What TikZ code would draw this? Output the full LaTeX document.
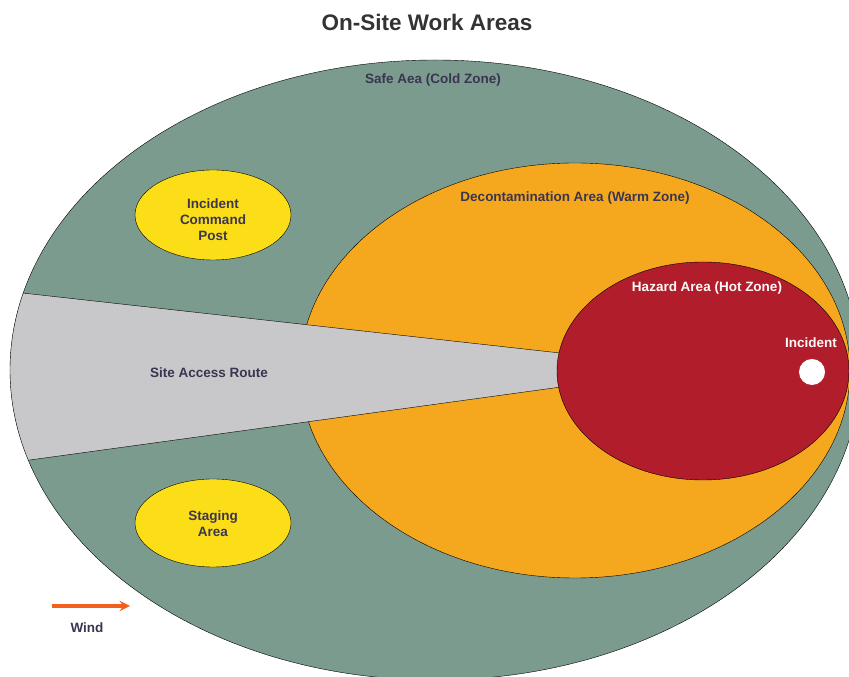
\documentclass[tikz,border=0pt]{standalone}
\usepackage{fontspec}
\setmainfont{Liberation Sans}
\usepackage{xcolor}
\usepackage{tikz}

\definecolor{coldzone}{HTML}{7B9B8E}
\definecolor{warmzone}{HTML}{F5A81E}
\definecolor{hotzone}{HTML}{B11D2A}
\definecolor{postyellow}{HTML}{FBDE17}
\definecolor{routegray}{HTML}{C8C8CA}
\definecolor{labeltext}{HTML}{3A3550}
\definecolor{windorange}{HTML}{F2601F}

\begin{document}
\begin{tikzpicture}[x=100pt,y=100pt,
  zonelabel/.style={font=\bfseries\fontsize{13.5}{16}\selectfont, text=labeltext},
  arealabel/.style={font=\bfseries\fontsize{13.5}{16}\selectfont, text=labeltext, align=center}]
\useasboundingbox (0,0) rectangle (8.49,6.77);
\clip (0,0) rectangle (8.49,6.77);
% safe area
\fill[coldzone] (4.35,3.07) ellipse [x radius=4.25, y radius=3.10];
% command post and staging
\draw[fill=postyellow] (2.13,4.62) ellipse [x radius=0.78, y radius=0.45];
\draw[fill=postyellow] (2.13,1.54) ellipse [x radius=0.78, y radius=0.44];
% warm zone
\draw[fill=warmzone] (5.75,3.065) ellipse [x radius=2.75, y radius=2.075];
% access route
\begin{scope}
\clip (4.35,3.07) ellipse [x radius=4.25, y radius=3.10];
\fill[routegray] (0,3.865) -- (5.60,3.24) -- (5.61,2.90) -- (0,2.129) -- cycle;
\draw (0,3.865) -- (5.60,3.24);
\draw (0,2.129) -- (5.61,2.90);
\end{scope}
\draw (4.35,3.07) ellipse [x radius=4.25, y radius=3.10];
% hot zone
\draw[fill=hotzone] (7.03,3.06) ellipse [x radius=1.46, y radius=1.09];
\fill[white] (8.12,3.05) circle [radius=0.13];
% labels
\node (title) at (4.27,6.55) {\bfseries\fontsize{22.5}{26}\selectfont\color[HTML]{333333}On-Site Work Areas};
\node[zonelabel] (cold) at (4.33,5.97) {Safe Aea (Cold Zone)};
\node[zonelabel] (warm) at (5.75,4.79) {Decontamination Area (Warm Zone)};
\node[zonelabel, text=white!92!pink] (hot) at (7.07,3.89) {Hazard Area (Hot Zone)};
\node[zonelabel, text=white!92!pink] (incident) at (8.11,3.34) {Incident};
\node[zonelabel] (route) at (2.09,3.04) {Site Access Route};
\node[arealabel] (post) at (2.13,4.57) {Incident\\Command\\Post};
\node[arealabel] (staging) at (2.13,1.53) {Staging\\Area};
% wind
\coordinate (windtail) at (0.52,0.71);
\coordinate (windhead) at (1.30,0.71);
\draw[windorange, line width=3.5pt, -stealth] (windtail) -- (windhead);
\node[zonelabel] (wind) at (0.87,0.49) {Wind};
\end{tikzpicture}
\end{document}
